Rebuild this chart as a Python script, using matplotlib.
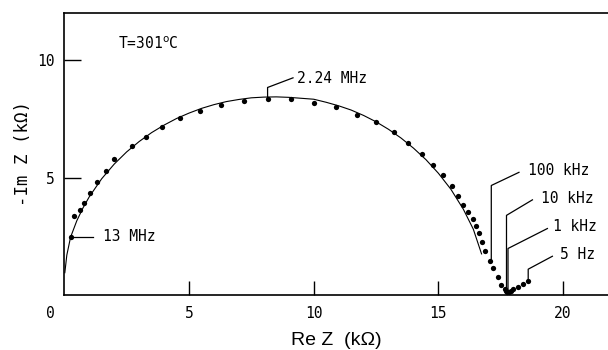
import matplotlib
matplotlib.use("Agg")
import matplotlib.pyplot as plt

# measured points (Re Z, -Im Z) in kOhm
re_pts = [0.27, 0.37, 0.61, 0.80, 1.04, 1.31, 1.68, 2.01, 2.71, 3.27, 3.93, 4.65, 5.44,
          6.29, 7.22, 8.15, 9.09, 10.0, 10.9, 11.74, 12.5, 13.2, 13.8, 14.35, 14.79,
          15.19, 15.54, 15.8, 16.0, 16.2, 16.37, 16.5, 16.62, 16.73, 16.86, 17.05,
          17.18, 17.39, 17.5, 17.65, 17.72, 17.77, 17.85, 17.9, 18.0, 18.2, 18.4, 18.6]
im_pts = [2.47, 3.36, 3.60, 3.93, 4.36, 4.82, 5.27, 5.78, 6.36, 6.74, 7.13, 7.52, 7.85,
          8.10, 8.27, 8.35, 8.35, 8.19, 8.00, 7.68, 7.34, 6.92, 6.47, 6.02, 5.55,
          5.10, 4.66, 4.22, 3.84, 3.53, 3.25, 2.92, 2.66, 2.26, 1.86, 1.45,
          1.13, 0.75, 0.42, 0.24, 0.17, 0.14, 0.15, 0.18, 0.24, 0.35, 0.47, 0.59]

# fitted arc
fit_re = [0.02, 0.1, 0.25, 0.5, 0.75, 1.0, 1.5, 2.0, 2.5, 3.0, 3.5, 4.0, 4.5, 5.0, 5.5,
          6.0, 6.5, 7.0, 7.5, 8.0, 8.5, 9.0, 9.5, 10.0, 10.5, 11.0, 11.5, 12.0, 12.5,
          13.0, 13.5, 14.0, 14.5, 15.0, 15.5, 16.0, 16.4, 16.73]
fit_im = [0.95, 1.7, 2.46, 3.16, 3.71, 4.18, 4.95, 5.57, 6.09, 6.53, 6.91, 7.23, 7.51,
          7.74, 7.94, 8.10, 8.23, 8.32, 8.39, 8.42, 8.43, 8.41, 8.37, 8.33, 8.20, 8.05,
          7.87, 7.64, 7.37, 7.05, 6.68, 6.25, 5.76, 5.18, 4.50, 3.65, 2.80, 1.75]

# frequency labels: text, leader path (x list, y list), text position
labels = ["2.24 MHz", "13 MHz", "100 kHz", "10 kHz", "1 kHz", "5 Hz"]
lead_x = [[8.15, 8.15, 9.17], [0.27, 1.16], [17.12, 17.12, 18.23],
          [17.73, 17.73, 18.77], [17.79, 17.79, 19.37], [18.6, 18.6, 19.57]]
lead_y = [[8.35, 8.83, 9.24], [2.47, 2.47], [1.48, 4.66, 5.22],
          [0.15, 3.39, 4.05], [0.15, 1.98, 2.83], [0.59, 1.10, 1.65]]
text_x = [9.34, 1.54, 18.58, 19.13, 19.60, 19.88]
text_y = [9.20, 2.47, 5.30, 4.10, 2.92, 1.74]

mono = "DejaVu Sans Mono"

fig = plt.figure(figsize=(6.08, 3.5), dpi=100)
ax = fig.add_axes([0.1058, 0.157, 0.8942, 0.806])

ax.plot(fit_re, fit_im, color="black", lw=0.8)
ax.plot(re_pts, im_pts, "o", color="black", ms=3.8, mew=0)

for i in range(len(labels)):
    ax.plot(lead_x[i], lead_y[i], color="black", lw=0.9)
    ax.text(text_x[i], text_y[i], labels[i], family=mono, fontsize=10.5,
            va="center", ha="left")

ax.text(2.16, 10.7, "T=301$^{\\rm o}$C", family=mono, fontsize=10.5, va="center")

ax.set_xlim(0, 21.8)
ax.set_ylim(0, 12)
ax.set_xticks([5, 10, 15, 20])
ax.set_yticks([5, 10])
ax.tick_params(axis="x", direction="in", length=10, width=1, pad=8, labelsize=10.5)
ax.tick_params(axis="y", direction="in", length=12, width=1, pad=7, labelsize=10.5)
for lab in ax.get_xticklabels() + ax.get_yticklabels():
    lab.set_family(mono)
ax.annotate("0", xy=(0, 0), xytext=(-10, -13), textcoords="offset points",
            ha="center", va="center", family=mono, fontsize=10.5)

ax.spines["right"].set_visible(False)
for s in ["left", "bottom", "top"]:
    ax.spines[s].set_linewidth(1.2)

ax.set_xlabel("Re Z  (k\u03a9)", family="Liberation Sans", fontsize=14, labelpad=8)
ax.set_ylabel("-Im Z (k\u03a9)", family=mono, fontsize=12.5, labelpad=4)

fig.savefig("out.png", dpi=100)
